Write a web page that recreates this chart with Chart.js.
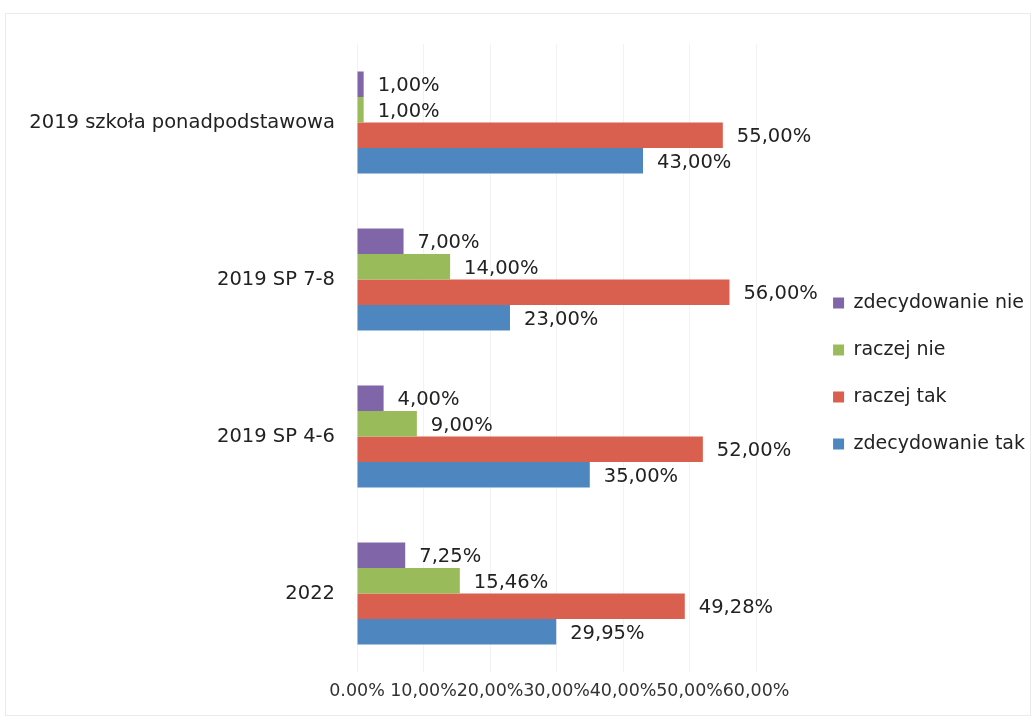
<!DOCTYPE html>
<html>
<head>
    <meta charset="utf-8">
    <title>Ankieta</title>
    <script src="https://cdn.jsdelivr.net/npm/chart.js"></script>
    <style>
        body { margin: 0; background: #fff; }
        #wrap { width: 1036px; height: 725px; }
    </style>
</head>
<body>
    <div id="wrap"><canvas id="chart"></canvas></div>
    <script>
        // categories (top to bottom) and series
        const categories = ['2019 szkoła ponadpodstawowa', '2019 SP 7-8', '2019 SP 4-6', '2022'];
        const zdecydowanieNie = [1, 7, 4, 7.25];
        const raczejNie = [1, 14, 9, 15.46];
        const raczejTak = [55, 56, 52, 49.28];
        const zdecydowanieTak = [43, 23, 35, 29.95];
        const xTickLabels = ['0.00%', '10,00%', '20,00%', '30,00%', '40,00%', '50,00%', '60,00%'];

        const FONT = 'DejaVu Sans';

        // value labels at the end of each bar
        const barLabels = {
            id: 'barLabels',
            afterDatasetsDraw(chart) {
                const ctx = chart.ctx;
                ctx.save();
                ctx.font = '19.5px "' + FONT + '"';
                ctx.fillStyle = '#222';
                ctx.textAlign = 'left';
                ctx.textBaseline = 'middle';
                chart.data.datasets.forEach((ds, i) => {
                    chart.getDatasetMeta(i).data.forEach((bar, j) => {
                        const txt = ds.data[j].toFixed(2).replace('.', ',') + '%';
                        ctx.fillText(txt, bar.x + 14, bar.y + 2);
                    });
                });
                ctx.restore();
            }
        };

        // faint frame around the chart
        const frame = {
            id: 'frame',
            beforeDraw(chart) {
                const ctx = chart.ctx;
                ctx.save();
                ctx.fillStyle = '#fff';
                ctx.fillRect(0, 0, chart.width, chart.height);
                ctx.strokeStyle = '#ebebeb';
                ctx.lineWidth = 1;
                ctx.strokeRect(5.5, 13.5, 1025, 702);
                ctx.restore();
            }
        };

        const ctx = document.getElementById('chart').getContext('2d');
        new Chart(ctx, {
            type: 'bar',
            data: {
                labels: categories,
                datasets: [
                    { label: 'zdecydowanie nie', data: zdecydowanieNie, backgroundColor: '#8066a8' },
                    { label: 'raczej nie', data: raczejNie, backgroundColor: '#9abb5a' },
                    { label: 'raczej tak', data: raczejTak, backgroundColor: '#d95f4e' },
                    { label: 'zdecydowanie tak', data: zdecydowanieTak, backgroundColor: '#4e87c0' }
                ]
            },
            options: {
                indexAxis: 'y',
                responsive: true,
                maintainAspectRatio: false,
                animation: false,
                categoryPercentage: 0.65,
                barPercentage: 1,
                layout: { padding: { top: 44, right: 1, left: 0, bottom: 22 } },
                plugins: {
                    legend: {
                        position: 'right',
                        maxWidth: 300,
                        labels: {
                            boxWidth: 11,
                            boxHeight: 11,
                            padding: 28,
                            color: '#222',
                            font: { family: FONT, size: 19 }
                        }
                    },
                    tooltip: { enabled: false }
                },
                scales: {
                    x: {
                        min: 0,
                        max: 60,
                        ticks: {
                            stepSize: 10,
                            padding: 9,
                            color: '#333',
                            maxRotation: 0,
                            autoSkip: false,
                            font: { family: FONT, size: 17.5 },
                            callback: (v, i) => xTickLabels[i]
                        },
                        grid: { color: '#f2f2f2', drawTicks: false },
                        border: { display: false },
                        afterFit: s => { s.height = 31; }
                    },
                    y: {
                        ticks: {
                            padding: 22,
                            color: '#222',
                            font: { family: FONT, size: 19.5 }
                        },
                        grid: { display: false, drawTicks: false },
                        border: { display: false },
                        afterFit: s => { s.width = 357; }
                    },
                    // empty spacer between plot and legend
                    yGap: {
                        position: 'right',
                        ticks: { display: false },
                        grid: { display: false, drawTicks: false },
                        border: { display: false },
                        afterFit: s => { s.width = 49; }
                    }
                }
            },
            plugins: [barLabels, frame]
        });
    </script>
</body>
</html>
